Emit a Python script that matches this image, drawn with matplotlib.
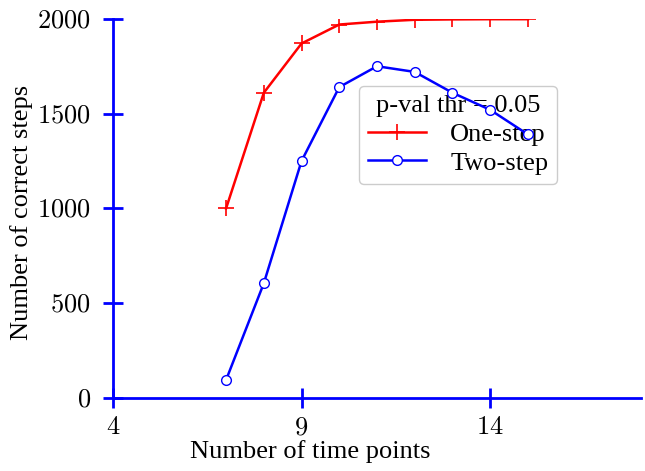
import matplotlib
matplotlib.use("Agg")
import matplotlib.pyplot as plt

time_points = [7, 8, 9, 10, 11, 12, 13, 14, 15]
one_step = [1000, 1610, 1870, 1970, 1985, 1995, 1997, 1998, 1998]
two_step = [95, 605, 1250, 1640, 1750, 1720, 1610, 1520, 1390]

x_ticks = [4, 9, 14]
y_ticks = [0, 500, 1000, 1500, 2000]

plt.rcParams["font.family"] = ["Liberation Serif", "DejaVu Serif"]
plt.rcParams["mathtext.fontset"] = "cm"

fig = plt.figure(figsize=(6.45, 4.71), dpi=100)
ax = fig.add_axes([0.175, 0.155, 0.819, 0.805])

ax.plot(time_points, one_step, c="red", lw=1.8, marker="+", ms=11, mew=1.2,
        label="One-step", zorder=3)
ax.plot(time_points, two_step, c="blue", lw=1.8, marker="o", ms=7, mew=1,
        mfc="white", label="Two-step", zorder=3)

ax.set_xlim(4, 18)
ax.set_ylim(0, 2000)
ax.set_xticks(x_ticks)
ax.set_yticks(y_ticks)
ax.set_xticklabels(["$%d$" % v for v in x_ticks])
ax.set_yticklabels(["$%d$" % v for v in y_ticks])

for s in ["top", "right"]:
    ax.spines[s].set_visible(False)
for s in ["left", "bottom"]:
    ax.spines[s].set_color("blue")
    ax.spines[s].set_linewidth(2)

ax.tick_params(axis="both", direction="inout", length=14, width=2, color="blue",
               labelsize=19)
ax.tick_params(axis="y", pad=9)
ax.tick_params(axis="x", pad=7)

ax.set_xlabel("Number of time points", fontsize=19)
ax.set_ylabel("Number of correct steps", fontsize=19)
ax.xaxis.set_label_coords(0.373, -0.11)
ax.yaxis.set_label_coords(-0.152, 0.49)

leg = ax.legend(title="p-val thr = 0.05", fontsize=19, title_fontsize=19,
                loc="upper left", bbox_to_anchor=(0.466, 0.823), frameon=True,
                fancybox=True, framealpha=0.6, edgecolor="#aaaaaa",
                handlelength=2.2, borderpad=0.35, labelspacing=0.2,
                handletextpad=0.9, borderaxespad=0)
leg.set_zorder(2)

fig.savefig("out.png", dpi=100)
